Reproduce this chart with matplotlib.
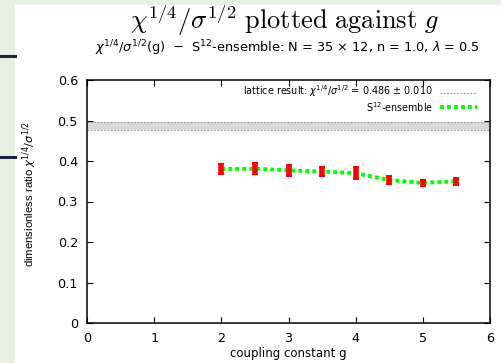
import matplotlib.pyplot as plt
from matplotlib.patches import Rectangle
from matplotlib.lines import Line2D

plt.rcParams["mathtext.fontset"] = "cm"
plt.rcParams["font.family"] = ["DejaVu Sans"]

# data
g = [2.0, 2.5, 3.0, 3.5, 4.0, 4.5, 5.0, 5.5]
ratio = [0.380, 0.381, 0.377, 0.374, 0.370, 0.353, 0.346, 0.350]
ratio_err = [0.013, 0.013, 0.013, 0.012, 0.015, 0.010, 0.007, 0.009]
lattice_val = 0.486
lattice_err = 0.010
x_ticks = [0, 1, 2, 3, 4, 5, 6]
y_ticks = [0, 0.1, 0.2, 0.3, 0.4, 0.5, 0.6]
y_labels = ["0", "0.1", "0.2", "0.3", "0.4", "0.5", "0.6"]

C_BG = "#e6f0e3"
C_DECO = "#1b2640"
C_GREEN = "#00ff00"
C_RED = "#ff0000"
C_BAND = "#d9d9d9"
C_BAND_EDGE = "#9a9a9a"
SANS = "dejavusans"


def main():
    fig = plt.figure(figsize=(5.01, 3.63), dpi=100)
    fig.patch.set_facecolor("white")

    # slide background strips
    fig.patches.append(Rectangle((0, 0), 15 / 501, 1, transform=fig.transFigure,
                                 facecolor=C_BG, edgecolor="none", zorder=0))
    fig.patches.append(Rectangle((0, 1 - 5 / 363), 1, 5 / 363, transform=fig.transFigure,
                                 facecolor=C_BG, edgecolor="none", zorder=0))
    for yp in (56, 157):
        fig.lines.append(Line2D([0, 15 / 501], [1 - yp / 363] * 2, transform=fig.transFigure,
                                color=C_DECO, lw=2.2))

    ax = fig.add_axes([87 / 501, 1 - 323 / 363, (490 - 87) / 501, (323 - 80) / 363])
    ax.set_xlim(0, 6)
    ax.set_ylim(0, 0.6)

    # lattice band
    ax.axhspan(lattice_val - lattice_err, lattice_val + lattice_err,
               facecolor=C_BAND, edgecolor="none", zorder=1)
    for yv in (lattice_val - lattice_err, lattice_val + lattice_err):
        ax.axhline(yv, color=C_BAND_EDGE, lw=0.8, ls=(0, (1.5, 1.5)), zorder=2)

    ax.plot(g, ratio, color=C_GREEN, lw=2.8, ls=(0, (1, 0.8)), zorder=3)
    ax.errorbar(g, ratio, yerr=ratio_err, fmt="none", ecolor=C_RED,
                elinewidth=4, capsize=2.5, capthick=1.5, zorder=4)

    # legend in gnuplot style: text right aligned, sample on the right
    ax.text(0.859, 0.953, r"lattice result: $\chi^{1/4}/\sigma^{1/2}$ = 0.486 $\pm$ 0.010",
            transform=ax.transAxes, ha="right", va="center", fontsize=6.9,
            math_fontfamily=SANS)
    ax.text(0.859, 0.887, r"S$^{12}$-ensemble", transform=ax.transAxes,
            ha="right", va="center", fontsize=6.9, math_fontfamily=SANS)
    ax.plot([0.876, 0.968], [0.948, 0.948], transform=ax.transAxes,
            color=C_BAND_EDGE, lw=0.8, ls=(0, (1.5, 1.5)))
    ax.plot([0.876, 0.968], [0.889, 0.889], transform=ax.transAxes,
            color=C_GREEN, lw=2.8, ls=(0, (1, 0.8)))

    ax.set_xticks(x_ticks)
    ax.set_yticks(y_ticks)
    ax.set_yticklabels(y_labels)
    ax.tick_params(direction="in", length=4, width=0.8, labelsize=9.2,
                   top=True, right=True, pad=6.5)
    for s in ax.spines.values():
        s.set_linewidth(1.1)

    ax.set_xlabel("coupling constant g", fontsize=8.5, labelpad=1.5)
    ax.set_ylabel(r"dimensionless ratio $\chi^{1/4}/\sigma^{1/2}$", fontsize=8.2,
                  family="Liberation Sans", math_fontfamily=SANS)
    ax.yaxis.set_label_coords(-0.118, 0.53)

    fig.text(284 / 501, 1 - 20 / 363,
             r"$\chi^{1/4}/\sigma^{1/2}\ \mathrm{plotted\ against}\ g$",
             ha="center", va="center", fontsize=19)
    fig.text(287 / 501, 1 - 48 / 363,
             r"$\chi^{1/4}/\sigma^{1/2}$(g)  $-$  S$^{12}$-ensemble: N = 35 $\times$ 12, n = 1.0, $\lambda$ = 0.5",
             ha="center", va="center", fontsize=9.3, math_fontfamily=SANS)

    fig.savefig("out.png", dpi=100)
    plt.close(fig)


if __name__ == "__main__":
    main()
